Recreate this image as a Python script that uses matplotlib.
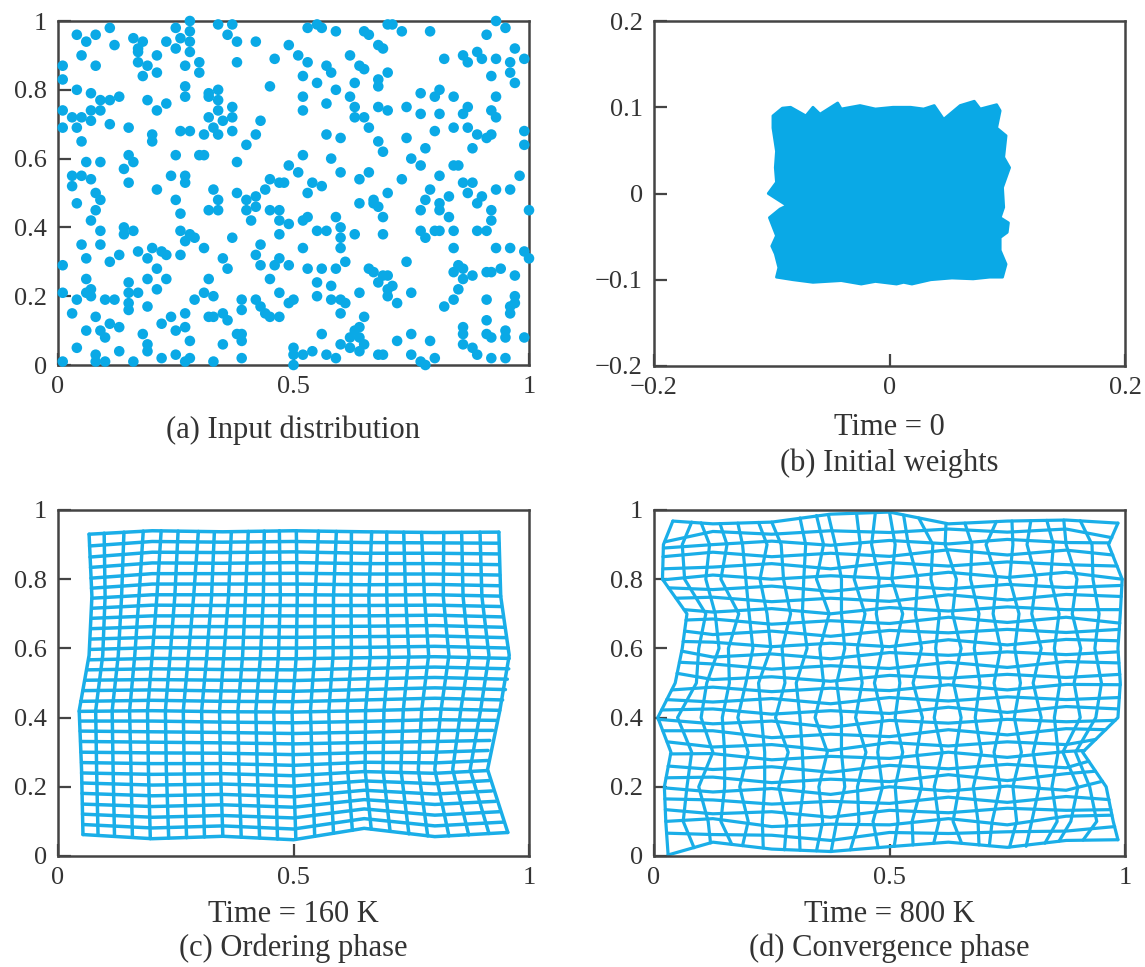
import matplotlib
matplotlib.use("Agg")
import matplotlib.pyplot as plt

plt.rcParams['font.family'] = ['Liberation Serif', 'DejaVu Serif']

BLUE = '#0aa9e6'
LINE = '#1aaee8'
SPINE = '#444444'

# (a) input distribution
input_pts = [
    (0.04,0.96),(0.08,0.96),(0.06,0.94),(0.11,0.98),(0.12,0.93),(0.05,0.90),(0.08,0.87),(0.01,0.87),
    (0.01,0.83),(0.04,0.80),(0.07,0.79),(0.09,0.77),(0.11,0.77),(0.13,0.78),(0.07,0.74),(0.09,0.74),
    (0.01,0.74),(0.03,0.72),(0.05,0.72),(0.07,0.71),(0.01,0.69),(0.04,0.69),(0.11,0.70),(0.05,0.65),
    (0.15,0.69),(0.16,0.95),(0.17,0.92),(0.18,0.94),(0.17,0.91),(0.17,0.88),(0.19,0.87),(0.18,0.84),
    (0.21,0.85),(0.21,0.90),(0.23,0.94),(0.25,0.98),(0.26,0.95),(0.28,0.97),(0.28,0.94),(0.25,0.92),
    (0.28,0.91),(0.28,1.00),(0.27,0.87),(0.30,0.88),(0.30,0.85),(0.27,0.81),(0.27,0.78),(0.19,0.77),
    (0.21,0.74),(0.23,0.76),(0.20,0.67),(0.20,0.65),(0.26,0.68),(0.28,0.68),(0.25,0.61),(0.32,0.79),
    (0.34,0.80),(0.32,0.78),(0.34,0.77),(0.34,0.74),(0.37,0.75),(0.32,0.72),(0.37,0.72),(0.35,0.71),
    (0.31,0.67),(0.33,0.69),(0.34,0.67),(0.37,0.68),(0.40,0.64),(0.42,0.67),(0.43,0.71),(0.45,0.81),
    (0.46,0.89),(0.42,0.94),(0.38,0.94),(0.38,0.88),(0.36,0.96),(0.37,0.99),(0.34,0.99),(0.49,0.93),
    (0.49,0.58),(0.47,0.53),(0.48,0.53),(0.45,0.54),(0.44,0.51),(0.38,0.59),(0.33,0.51),(0.31,0.61),
    (0.30,0.61),(0.27,0.55),(0.27,0.53),(0.24,0.55),(0.21,0.51),(0.15,0.53),(0.14,0.57),(0.16,0.59),
    (0.15,0.61),(0.09,0.59),(0.06,0.59),(0.05,0.55),(0.03,0.55),(0.03,0.52),(0.07,0.54),(0.08,0.50),
    (0.04,0.47),(0.09,0.48),(0.38,0.50),(0.40,0.48),(0.42,0.49),(0.25,0.48),(0.26,0.44),(0.26,0.39),
    (0.28,0.38),(0.27,0.36),(0.29,0.37),(0.31,0.34),(0.26,0.32),(0.34,0.48),(0.32,0.45),(0.34,0.45),
    (0.42,0.46),(0.40,0.45),(0.41,0.42),(0.45,0.45),(0.47,0.45),(0.47,0.42),(0.49,0.41),(0.47,0.38),
    (0.43,0.35),(0.42,0.32),(0.43,0.29),(0.45,0.25),(0.47,0.31),(0.46,0.29),(0.49,0.29),(0.47,0.21),
    (0.49,0.18),(0.47,0.14),(0.45,0.14),(0.43,0.17),(0.44,0.15),(0.42,0.19),(0.39,0.16),(0.39,0.19),
    (0.37,0.37),(0.35,0.31),(0.36,0.28),(0.32,0.25),(0.31,0.21),(0.33,0.20),(0.35,0.15),(0.36,0.13),
    (0.32,0.14),(0.33,0.14),(0.38,0.09),(0.39,0.09),(0.39,0.07),(0.39,0.02),(0.35,0.06),(0.33,0.01),
    (0.29,0.19),(0.27,0.15),(0.27,0.11),(0.25,0.10),(0.24,0.14),(0.22,0.12),(0.23,0.25),(0.21,0.22),
    (0.21,0.28),(0.19,0.25),(0.20,0.34),(0.22,0.33),(0.23,0.32),(0.17,0.33),(0.19,0.31),(0.17,0.21),
    (0.15,0.24),(0.15,0.21),(0.15,0.18),(0.15,0.16),(0.19,0.17),(0.18,0.09),(0.19,0.06),(0.19,0.04),
    (0.22,0.02),(0.25,0.03),(0.27,0.01),(0.28,0.07),(0.28,0.02),(0.16,0.01),(0.13,0.04),(0.13,0.32),
    (0.11,0.30),(0.14,0.40),(0.14,0.38),(0.16,0.39),(0.12,0.19),(0.10,0.19),(0.11,0.12),(0.13,0.11),
    (0.09,0.10),(0.10,0.08),(0.07,0.20),(0.07,0.22),(0.06,0.25),(0.06,0.21),(0.04,0.19),(0.06,0.31),
    (0.05,0.35),(0.09,0.35),(0.01,0.29),(0.01,0.21),(0.03,0.15),(0.04,0.05),(0.06,0.10),(0.08,0.14),
    (0.08,0.03),(0.08,0.01),(0.10,0.01),(0.01,0.01),(0.07,0.42),(0.08,0.45),(0.09,0.39),
    (0.53,0.98),(0.55,0.99),(0.56,0.98),(0.59,0.97),(0.65,0.97),(0.66,0.96),(0.70,0.99),(0.71,0.99),
    (0.73,0.97),(0.79,0.97),(0.51,0.90),(0.53,0.88),(0.57,0.87),(0.58,0.85),(0.52,0.84),(0.55,0.82),
    (0.59,0.80),(0.62,0.90),(0.64,0.87),(0.65,0.86),(0.68,0.93),(0.69,0.92),(0.70,0.85),(0.68,0.83),
    (0.68,0.81),(0.63,0.82),(0.62,0.78),(0.63,0.75),(0.63,0.72),(0.65,0.72),(0.66,0.69),(0.68,0.75),
    (0.70,0.74),(0.57,0.76),(0.52,0.78),(0.52,0.74),(0.57,0.67),(0.60,0.66),(0.52,0.61),(0.58,0.60),
    (0.51,0.56),(0.54,0.53),(0.56,0.52),(0.53,0.50),(0.60,0.56),(0.64,0.54),(0.66,0.56),(0.68,0.65),
    (0.69,0.62),(0.70,0.50),(0.73,0.54),(0.74,0.75),(0.74,0.66),(0.75,0.60),(0.77,0.58),(0.78,0.63),
    (0.77,0.73),(0.77,0.79),(0.80,0.78),(0.81,0.80),(0.84,0.78),(0.81,0.73),(0.80,0.68),(0.84,0.69),
    (0.86,0.73),(0.87,0.75),(0.87,0.69),(0.89,0.67),(0.91,0.66),(0.92,0.67),(0.88,0.63),(0.92,0.74),
    (0.93,0.72),(0.93,0.78),(0.92,0.84),(0.96,0.85),(0.97,0.82),(0.99,0.68),(0.99,0.64),(0.98,0.55),
    (0.93,0.51),(0.96,0.51),(0.88,0.53),(0.86,0.53),(0.84,0.58),(0.85,0.58),(0.81,0.55),(0.79,0.51),
    (0.83,0.49),(0.87,0.50),(0.90,0.49),(0.82,0.89),(0.86,0.90),(0.87,0.88),(0.89,0.91),(0.90,0.89),
    (0.93,0.89),(0.96,0.88),(0.97,0.92),(0.99,0.89),(0.91,0.96),(0.93,1.00),(0.95,0.98),
    (0.89,0.47),(0.81,0.47),(0.52,0.42),(0.53,0.43),(0.55,0.39),(0.57,0.39),(0.59,0.43),(0.60,0.40),
    (0.60,0.37),(0.60,0.34),(0.63,0.38),(0.64,0.47),(0.67,0.48),(0.67,0.47),(0.68,0.46),(0.69,0.43),
    (0.69,0.38),(0.52,0.34),(0.55,0.20),(0.55,0.24),(0.53,0.28),(0.56,0.28),(0.59,0.28),(0.61,0.30),
    (0.58,0.23),(0.58,0.19),(0.60,0.19),(0.61,0.18),(0.60,0.15),(0.64,0.21),(0.65,0.14),(0.64,0.11),
    (0.63,0.10),(0.62,0.08),(0.64,0.08),(0.65,0.06),(0.60,0.06),(0.62,0.05),(0.64,0.04),(0.59,0.02),
    (0.56,0.09),(0.54,0.04),(0.57,0.03),(0.52,0.03),(0.50,0.05),(0.50,0.03),(0.50,0.00),(0.50,0.19),
    (0.66,0.28),(0.67,0.27),(0.69,0.26),(0.70,0.26),(0.68,0.24),(0.70,0.22),(0.71,0.23),(0.70,0.20),
    (0.72,0.18),(0.74,0.30),(0.75,0.21),(0.72,0.07),(0.75,0.09),(0.79,0.07),(0.80,0.02),(0.75,0.03),
    (0.77,0.01),(0.78,0.00),(0.68,0.03),(0.69,0.03),(0.77,0.39),(0.78,0.37),(0.80,0.39),(0.81,0.39),
    (0.84,0.39),(0.84,0.34),(0.78,0.48),(0.77,0.45),(0.81,0.45),(0.83,0.43),(0.89,0.39),(0.91,0.39),
    (0.92,0.45),(0.92,0.42),(0.93,0.34),(0.96,0.34),(0.99,0.33),(1.00,0.31),(1.00,0.45),(0.94,0.28),
    (0.97,0.26),(0.91,0.27),(0.92,0.27),(0.88,0.26),(0.86,0.28),(0.85,0.29),(0.86,0.25),(0.85,0.22),
    (0.84,0.27),(0.84,0.19),(0.82,0.17),(0.91,0.19),(0.97,0.20),(0.97,0.18),(0.96,0.17),(0.96,0.15),
    (0.91,0.13),(0.86,0.11),(0.86,0.09),(0.91,0.09),(0.92,0.08),(0.95,0.10),(0.95,0.08),(0.99,0.08),
    (0.86,0.06),(0.88,0.05),(0.89,0.03),(0.92,0.02),(0.95,0.02),
]

# (b) outline of the tangled initial weights
init_outline = [
    (-0.099,0.090),(-0.091,0.099),(-0.084,0.100),(-0.071,0.090),(-0.065,0.100),(-0.059,0.092),
    (-0.044,0.105),(-0.041,0.098),(-0.025,0.102),(-0.012,0.098),(0.003,0.100),(0.018,0.100),
    (0.029,0.098),(0.038,0.102),(0.046,0.086),(0.060,0.102),(0.072,0.107),(0.077,0.098),
    (0.091,0.103),(0.094,0.096),(0.091,0.076),(0.099,0.067),(0.097,0.042),(0.102,0.030),
    (0.096,0.007),(0.097,-0.016),(0.094,-0.028),(0.101,-0.034),(0.100,-0.045),(0.094,-0.051),
    (0.094,-0.066),(0.099,-0.082),(0.096,-0.097),(0.085,-0.097),(0.071,-0.099),(0.053,-0.098),
    (0.035,-0.100),(0.019,-0.105),(0.012,-0.103),(0.006,-0.105),(-0.012,-0.102),(-0.024,-0.105),
    (-0.041,-0.101),(-0.065,-0.103),(-0.082,-0.100),(-0.096,-0.097),(-0.094,-0.086),(-0.097,-0.070),
    (-0.100,-0.061),(-0.096,-0.049),(-0.102,-0.028),(-0.093,-0.018),(-0.087,-0.014),(-0.103,0.000),
    (-0.096,0.013),(-0.097,0.030),(-0.096,0.049),(-0.099,0.076),
]

# (c) ordering phase lattice: columns (x at y levels), rows (y at x levels)
ord_col_levels = [0.25, 0.42, 0.58, 0.75]
ord_col_x = [
    [0.053,0.050,0.045,0.066,0.072,0.066],[0.085,0.082,0.080,0.095,0.100,0.098],
    [0.120,0.117,0.115,0.128,0.135,0.140],[0.158,0.155,0.152,0.163,0.172,0.181],
    [0.196,0.192,0.190,0.200,0.210,0.219],[0.235,0.230,0.228,0.238,0.248,0.255],
    [0.273,0.268,0.266,0.277,0.288,0.298],[0.311,0.307,0.305,0.316,0.326,0.332],
    [0.350,0.345,0.343,0.352,0.362,0.368],[0.389,0.384,0.382,0.392,0.398,0.404],
    [0.428,0.423,0.420,0.430,0.436,0.438],[0.466,0.462,0.458,0.468,0.472,0.470],
    [0.505,0.500,0.497,0.506,0.508,0.506],[0.545,0.540,0.536,0.545,0.546,0.553],
    [0.585,0.578,0.575,0.584,0.585,0.591],[0.625,0.615,0.614,0.623,0.622,0.623],
    [0.665,0.652,0.653,0.663,0.660,0.666],[0.705,0.690,0.692,0.703,0.698,0.698],
    [0.745,0.728,0.733,0.745,0.738,0.734],[0.785,0.765,0.772,0.787,0.778,0.772],
    [0.830,0.800,0.813,0.830,0.818,0.819],[0.872,0.838,0.855,0.873,0.860,0.857],
    [0.915,0.875,0.897,0.915,0.900,0.896],[0.955,0.912,0.938,0.958,0.940,0.936],
]
ord_col_bot = [0.062,0.060,0.057,0.054,0.050,0.052,0.053,0.055,0.057,0.054,0.052,0.049,
               0.048,0.057,0.066,0.074,0.078,0.072,0.064,0.058,0.058,0.061,0.065,0.068]
ord_col_top = [0.930,0.933,0.936,0.939,0.940,0.939,0.938,0.937,0.937,0.938,0.939,0.940,
               0.940,0.939,0.938,0.937,0.937,0.936,0.936,0.935,0.935,0.935,0.936,0.936]
ord_row_levels = [0.2, 0.35, 0.5, 0.65, 0.8]
ord_row_y = [
    [0.062,0.050,0.057,0.047,0.080,0.056,0.068],[0.091,0.081,0.087,0.078,0.108,0.087,0.098],
    [0.121,0.112,0.117,0.110,0.136,0.118,0.128],[0.150,0.143,0.148,0.141,0.163,0.149,0.158],
    [0.181,0.174,0.178,0.171,0.190,0.179,0.188],[0.211,0.205,0.208,0.202,0.217,0.209,0.218],
    [0.240,0.236,0.238,0.232,0.244,0.239,0.247],[0.270,0.267,0.267,0.262,0.271,0.269,0.276],
    [0.300,0.298,0.297,0.293,0.299,0.300,0.305],[0.331,0.329,0.327,0.324,0.328,0.331,0.334],
    [0.361,0.359,0.357,0.354,0.358,0.363,0.363],[0.390,0.390,0.387,0.385,0.389,0.394,0.392],
    [0.418,0.420,0.417,0.416,0.420,0.425,0.421],[0.447,0.450,0.447,0.446,0.451,0.456,0.451],
    [0.478,0.480,0.477,0.476,0.481,0.486,0.481],[0.508,0.510,0.508,0.507,0.512,0.516,0.511],
    [0.538,0.541,0.539,0.538,0.542,0.546,0.541],[0.567,0.571,0.570,0.570,0.573,0.576,0.571],
    [0.597,0.602,0.601,0.601,0.603,0.606,0.601],[0.627,0.632,0.632,0.632,0.634,0.636,0.631],
    [0.657,0.663,0.663,0.663,0.664,0.666,0.661],[0.687,0.694,0.694,0.694,0.694,0.696,0.691],
    [0.716,0.725,0.724,0.724,0.724,0.725,0.721],[0.745,0.755,0.755,0.755,0.754,0.755,0.751],
    [0.774,0.786,0.786,0.786,0.784,0.785,0.781],[0.803,0.816,0.816,0.817,0.815,0.815,0.812],
    [0.834,0.847,0.846,0.848,0.845,0.845,0.842],[0.864,0.878,0.877,0.879,0.875,0.875,0.873],
    [0.896,0.909,0.907,0.909,0.906,0.905,0.904],[0.930,0.940,0.937,0.940,0.937,0.935,0.936],
]
ord_row_left = [0.053,0.053,0.052,0.052,0.051,0.051,0.050,0.050,0.049,0.048,0.047,0.046,0.045,0.048,0.053,
                0.058,0.062,0.066,0.068,0.070,0.071,0.072,0.072,0.072,0.071,0.070,0.069,0.068,0.067,0.066]
ord_row_right = [0.955,0.946,0.937,0.929,0.921,0.915,0.912,0.912,0.913,0.917,0.923,0.930,0.938,0.944,0.950,
                 0.954,0.957,0.958,0.956,0.952,0.948,0.944,0.941,0.940,0.939,0.938,0.937,0.937,0.936,0.936]

# (d) convergence phase lattice
conv_col_levels = [0.1, 0.2, 0.3, 0.4, 0.5, 0.6, 0.7, 0.8, 0.9]
conv_col_x = [
    [0.030,0.025,0.022,0.036,0.008,0.045,0.060,0.070,0.018,0.020,0.040],
    [0.085,0.062,0.070,0.080,0.050,0.090,0.095,0.110,0.065,0.060,0.080],
    [0.120,0.115,0.095,0.125,0.100,0.112,0.138,0.130,0.110,0.118,0.100],
    [0.165,0.142,0.150,0.150,0.145,0.160,0.158,0.180,0.142,0.155,0.140],
    [0.188,0.200,0.182,0.200,0.178,0.195,0.210,0.202,0.195,0.188,0.178],
    [0.232,0.230,0.235,0.235,0.228,0.222,0.248,0.240,0.225,0.240,0.222],
    [0.277,0.282,0.265,0.285,0.258,0.278,0.272,0.290,0.275,0.270,0.250],
    [0.310,0.308,0.318,0.315,0.310,0.302,0.325,0.315,0.318,0.322,0.310],
    [0.345,0.358,0.350,0.368,0.342,0.360,0.352,0.372,0.345,0.360,0.345],
    [0.376,0.388,0.405,0.398,0.398,0.388,0.405,0.398,0.398,0.385,0.370],
    [0.417,0.435,0.432,0.450,0.428,0.442,0.432,0.448,0.425,0.438,0.430],
    [0.476,0.465,0.485,0.475,0.485,0.468,0.485,0.472,0.478,0.462,0.470],
    [0.510,0.518,0.512,0.528,0.512,0.522,0.512,0.528,0.505,0.512,0.500],
    [0.550,0.548,0.568,0.558,0.570,0.550,0.568,0.555,0.560,0.540,0.530],
    [0.594,0.605,0.595,0.612,0.595,0.608,0.598,0.606,0.588,0.592,0.562],
    [0.653,0.635,0.648,0.640,0.652,0.636,0.652,0.634,0.642,0.618,0.620],
    [0.690,0.688,0.678,0.695,0.682,0.692,0.680,0.690,0.672,0.675,0.660],
    [0.712,0.718,0.735,0.722,0.738,0.722,0.736,0.720,0.728,0.705,0.727],
    [0.755,0.770,0.762,0.780,0.765,0.778,0.766,0.775,0.755,0.762,0.760],
    [0.790,0.802,0.818,0.805,0.822,0.805,0.822,0.802,0.812,0.792,0.800],
    [0.830,0.856,0.845,0.858,0.850,0.862,0.850,0.860,0.842,0.848,0.834],
    [0.860,0.885,0.900,0.868,0.905,0.892,0.906,0.888,0.898,0.875,0.870],
    [0.911,0.940,0.925,0.895,0.938,0.950,0.936,0.945,0.932,0.930,0.905],
    [0.985,0.975,0.960,0.910,0.985,0.990,0.985,0.990,0.994,0.965,0.985],
]
conv_col_bot = [0.003,0.024,0.038,0.034,0.030,0.023,0.018,0.017,0.015,0.013,0.018,0.024,
                0.028,0.032,0.037,0.037,0.032,0.030,0.026,0.028,0.037,0.043,0.046,0.047]
conv_col_top = [0.968,0.965,0.963,0.961,0.962,0.964,0.965,0.977,0.984,0.987,0.990,0.993,
                0.994,0.985,0.977,0.961,0.962,0.967,0.968,0.969,0.970,0.971,0.969,0.962]
conv_row_levels = [0.125, 0.25, 0.375, 0.5, 0.625, 0.75, 0.875]
conv_row_y = [
    [0.003,0.040,0.020,0.013,0.027,0.040,0.025,0.045,0.047],
    [0.066,0.062,0.060,0.045,0.068,0.065,0.070,0.072,0.085],
    [0.100,0.108,0.085,0.092,0.090,0.108,0.090,0.115,0.118],
    [0.134,0.122,0.128,0.112,0.132,0.125,0.138,0.132,0.134],
    [0.165,0.162,0.150,0.158,0.152,0.170,0.155,0.172,0.163],
    [0.197,0.185,0.195,0.178,0.200,0.188,0.202,0.190,0.216],
    [0.226,0.228,0.212,0.222,0.215,0.235,0.218,0.238,0.245],
    [0.260,0.250,0.258,0.242,0.262,0.252,0.265,0.255,0.274],
    [0.295,0.296,0.278,0.288,0.282,0.300,0.285,0.302,0.305],
    [0.330,0.315,0.322,0.305,0.328,0.318,0.330,0.322,0.337],
    [0.362,0.362,0.342,0.352,0.345,0.365,0.350,0.368,0.365],
    [0.395,0.382,0.390,0.372,0.392,0.384,0.395,0.388,0.392],
    [0.422,0.425,0.410,0.420,0.412,0.430,0.415,0.432,0.425],
    [0.452,0.445,0.455,0.440,0.458,0.448,0.460,0.452,0.458],
    [0.480,0.488,0.475,0.485,0.478,0.495,0.480,0.496,0.495],
    [0.528,0.510,0.518,0.505,0.522,0.514,0.525,0.516,0.525],
    [0.560,0.555,0.540,0.550,0.542,0.560,0.545,0.562,0.558],
    [0.592,0.575,0.584,0.570,0.588,0.580,0.590,0.582,0.590],
    [0.620,0.618,0.605,0.615,0.605,0.625,0.610,0.626,0.622],
    [0.650,0.640,0.650,0.635,0.652,0.645,0.655,0.646,0.655],
    [0.682,0.685,0.670,0.680,0.672,0.690,0.675,0.690,0.673],
    [0.712,0.705,0.715,0.700,0.718,0.708,0.720,0.712,0.712],
    [0.745,0.748,0.735,0.745,0.736,0.755,0.740,0.756,0.750],
    [0.775,0.770,0.780,0.765,0.782,0.772,0.785,0.776,0.782],
    [0.798,0.812,0.800,0.810,0.802,0.820,0.805,0.820,0.800],
    [0.830,0.835,0.845,0.830,0.848,0.838,0.850,0.842,0.838],
    [0.865,0.878,0.865,0.875,0.866,0.885,0.870,0.884,0.870],
    [0.890,0.900,0.910,0.898,0.912,0.902,0.915,0.906,0.905],
    [0.908,0.938,0.930,0.940,0.935,0.945,0.936,0.945,0.920],
    [0.968,0.960,0.965,0.988,0.994,0.960,0.968,0.971,0.962],
]
conv_row_left = [0.030,0.027,0.025,0.024,0.023,0.022,0.026,0.030,0.035,0.028,0.019,0.009,0.016,0.027,0.038,
                 0.049,0.054,0.059,0.062,0.065,0.068,0.064,0.047,0.031,0.019,0.019,0.019,0.020,0.023,0.040]
conv_row_right = [0.985,0.978,0.972,0.970,0.966,0.952,0.937,0.923,0.914,0.938,0.959,0.979,0.986,0.988,0.990,
                  0.989,0.987,0.985,0.986,0.988,0.989,0.990,0.992,0.993,0.994,0.983,0.974,0.966,0.972,0.985]


def style_axes(ax):
    for sp in ax.spines.values():
        sp.set_color(SPINE)
        sp.set_linewidth(1.8)
    ax.tick_params(direction='in', length=9, width=1.6, color=SPINE,
                   labelsize=19, pad=8, labelcolor='#333333')


def draw_lattice(ax, col_x, col_bot, col_top, col_levels,
                 row_y, row_left, row_right, row_levels, lw):
    for xs, b, t in zip(col_x, col_bot, col_top):
        ys = [b] + col_levels + [t]
        ax.plot(xs, ys, color=LINE, lw=lw, solid_joinstyle='round',
                solid_capstyle='round', clip_on=False)
    for ys, l, r in zip(row_y, row_left, row_right):
        xs = [l] + row_levels + [r]
        ax.plot(xs, ys, color=LINE, lw=lw, solid_joinstyle='round',
                solid_capstyle='round', clip_on=False)


W, H = 1145, 967
fig = plt.figure(figsize=(W / 100, H / 100), dpi=100)


def box(l, r, t, b):
    return [l / W, 1 - b / H, (r - l) / W, (b - t) / H]


ax_a = fig.add_axes(box(58, 529, 21, 365))
ax_b = fig.add_axes(box(654, 1125, 21, 366))
ax_c = fig.add_axes(box(58, 529, 510, 856))
ax_d = fig.add_axes(box(654, 1125, 510, 856))

unit_ticks = [0, 0.2, 0.4, 0.6, 0.8, 1]
unit_labels = ['0', '0.2', '0.4', '0.6', '0.8', '1']

# (a)
px, py = zip(*input_pts)
ax_a.scatter(px, py, s=58, color=BLUE, edgecolors='none', clip_on=False, zorder=3)

# (b)
bx, by = zip(*init_outline)
ax_b.fill(bx, by, color=BLUE, lw=2.0, edgecolor=BLUE, joinstyle='round')
ax_b.set_xlim(-0.2, 0.2)
ax_b.set_ylim(-0.2, 0.2)
ax_b.set_xticks([-0.2, 0, 0.2])
ax_b.set_xticklabels(['\u22120.2', '0', '0.2'])
ax_b.set_yticks([-0.2, -0.1, 0, 0.1, 0.2])
ax_b.set_yticklabels(['\u22120.2', '\u22120.1', '0', '0.1', '0.2'])

# (c), (d)
draw_lattice(ax_c, ord_col_x, ord_col_bot, ord_col_top, ord_col_levels,
             ord_row_y, ord_row_left, ord_row_right, ord_row_levels, 2.5)
draw_lattice(ax_d, conv_col_x, conv_col_bot, conv_col_top, conv_col_levels,
             conv_row_y, conv_row_left, conv_row_right, conv_row_levels, 2.3)

for ax in (ax_a, ax_c, ax_d):
    ax.set_xlim(0, 1)
    ax.set_ylim(0, 1)
    ax.set_xticks([0, 0.5, 1])
    ax.set_xticklabels(['0', '0.5', '1'])
    ax.set_yticks(unit_ticks)
    ax.set_yticklabels(unit_labels)

for ax in (ax_a, ax_b, ax_c, ax_d):
    style_axes(ax)

cap = dict(ha='center', va='center', fontsize=22, color='#333333')
lx, rx = 293.5 / W, 889.5 / W
fig.text(lx, 1 - 430 / H, '(a) Input distribution', **cap)
fig.text(rx, 1 - 428 / H, 'Time = 0', **cap)
fig.text(rx, 1 - 463 / H, '(b) Initial weights', **cap)
fig.text(lx, 1 - 915 / H, 'Time = 160 K', **cap)
fig.text(lx, 1 - 948 / H, '(c) Ordering phase', **cap)
fig.text(rx, 1 - 915 / H, 'Time = 800 K', **cap)
fig.text(rx, 1 - 948 / H, '(d) Convergence phase', **cap)

fig.savefig('out.png', dpi=100)
